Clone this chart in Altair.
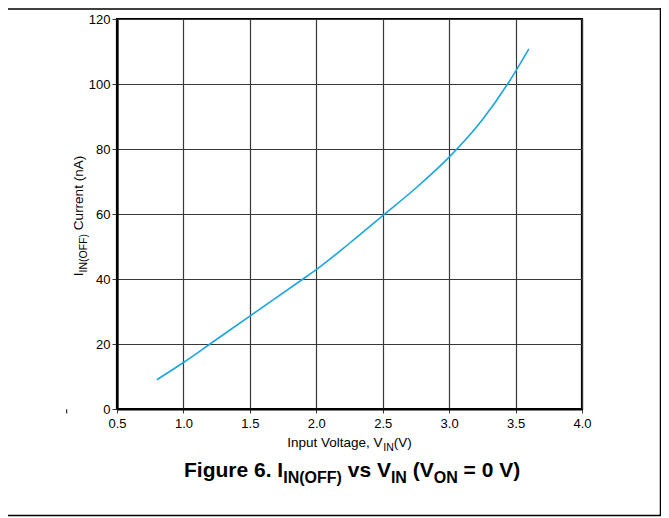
import altair as alt
import pandas as pd

# ---- data ----
v_in = [0.8, 1.0, 1.2, 1.5, 1.9, 2.0, 2.25, 2.5, 2.75, 3.0, 3.25, 3.44, 3.5, 3.6]
i_off = [9.0, 14.3, 20.0, 28.6, 40.0, 42.9, 51.0, 59.5, 68.0, 77.5, 89.0, 100.0, 103.9, 110.8]
x_ticks = [0.5, 1.0, 1.5, 2.0, 2.5, 3.0, 3.5, 4.0]
y_ticks = [0, 20, 40, 60, 80, 100, 120]

FONT = "Liberation Sans"
W, H = 465, 390

# Arial/Liberation Sans advance widths (per 1000 em)
REG = {' ': 278, '(': 333, ')': 333, ',': 278, '.': 278, '=': 584, 'A': 667, 'C': 722,
       'F': 611, 'I': 278, 'N': 722, 'O': 778, 'V': 667, 'a': 556, 'e': 556, 'g': 556,
       'i': 222, 'l': 222, 'n': 556, 'o': 556, 'p': 556, 'r': 333, 's': 500, 't': 278,
       'u': 556, 'v': 500}
BOLD = {' ': 278, '(': 333, ')': 333, '.': 278, '=': 584, 'F': 611, 'I': 278, 'N': 722,
        'O': 778, 'V': 667, 'e': 556, 'g': 611, 'i': 278, 'r': 389, 's': 556, 'u': 611,
        'v': 556}


def tw(s, size, bold=False):
    tbl = BOLD if bold else REG
    return sum(tbl.get(c, 556) for c in s) * size / 1000.0


df = pd.DataFrame({"V": v_in, "I": i_off})
one = pd.DataFrame({"a": [0]})

GRID = "#383838"
line = alt.Chart(df).mark_line(color="#1ba6e1", strokeWidth=1.6, interpolate="monotone").encode(
    x=alt.X("V:Q", scale=alt.Scale(domain=[0.5, 4.0], nice=False, zero=False),
            axis=alt.Axis(values=x_ticks, format=".1f", title=None, grid=True,
                          gridColor=GRID, gridWidth=1.2, domainColor="black",
                          domainWidth=2.2, tickColor=GRID, tickSize=4,
                          labelPadding=4, labelFontSize=13, labelFont=FONT,
                          labelColor="black", labelFlush=False)),
    y=alt.Y("I:Q", scale=alt.Scale(domain=[0, 120], nice=False),
            axis=alt.Axis(values=y_ticks, title=None, grid=True,
                          gridColor=GRID, gridWidth=1.2, domainColor="black",
                          domainWidth=2.2, tickColor=GRID, tickSize=5,
                          labelPadding=2, labelFontSize=13, labelFont=FONT,
                          labelColor="black", labelFlush=False)),
)


def text_piece(txt, x, y, size, bold=False, angle=0):
    return alt.Chart(pd.DataFrame({"t": [txt]})).mark_text(
        align="left", baseline="alphabetic", font=FONT, fontSize=size,
        fontWeight="bold" if bold else "normal", color="black", angle=angle
    ).encode(text="t:N", x=alt.value(x), y=alt.value(y))


def lead(p, z, bold=False):
    """width of leading spaces (SVG drops them), and the stripped text"""
    n = len(p) - len(p.lstrip(" "))
    return tw(" " * n, z, bold), p.lstrip(" ")


layers = [line]

# x axis title: Input Voltage, V_IN(V)
S, s = 13.5, 10.5
parts = [("Input Voltage, V", S, 0), ("IN", s, 4), ("(V)", S, 0)]
total = sum(tw(p, z) for p, z, _ in parts)
x = W / 2 - total / 2
for p, z, dy in parts:
    off, t = lead(p, z)
    layers.append(text_piece(t, x + off, 428 + dy, z))
    x += tw(p, z)

# y axis title (rotated): I_IN(OFF) Current (nA)
parts = [("I", S, 0), ("IN(OFF)", s, 3.5), (" Current (nA)", S, 0)]
total = sum(tw(p, z) for p, z, _ in parts)
y = 197 + total / 2
for p, z, dx in parts:
    off, t = lead(p, z)
    layers.append(text_piece(t, -34 + dx, y - off, z, angle=270))
    y -= tw(p, z)

# figure caption: Figure 6. I_IN(OFF) vs V_IN (V_ON = 0 V)
S2, s2 = 21, 16
parts = [("Figure 6. I", S2, 0), ("IN(OFF)", s2, 6), (" vs V", S2, 0), ("IN", s2, 6),
         (" (V", S2, 0), ("ON", s2, 6), (" = 0 V)", S2, 0)]
x = 67
for p, z, dy in parts:
    off, t = lead(p, z, True)
    layers.append(text_piece(t, x + off, 458 + dy, z, bold=True))
    x += tw(p, z, bold=True)

# page frame lines and the small stray tick
def rule(x1, x2, y1, y2, w=1.5):
    return alt.Chart(one).mark_rule(color="black", strokeWidth=w).encode(
        x=alt.value(x1), x2=alt.value(x2), y=alt.value(y1), y2=alt.value(y2))

layers.append(rule(-120, 543.5, -10, -10))
layers.append(rule(543.5, 543.5, -12, 497))
layers.append(rule(-120, 543.5, 496.5, 496.5))
layers.append(rule(-50.3, -50.3, 390.3, 394.5, 1))

chart = alt.layer(*layers).properties(
    width=W, height=H,
    padding={"left": 109, "top": 11, "right": 79, "bottom": 108},
    autosize=alt.AutoSizeParams(type="none"),
).configure_view(stroke="black", strokeWidth=2.2)

chart.save("out.html", embed_options={"renderer": "svg", "actions": False})
